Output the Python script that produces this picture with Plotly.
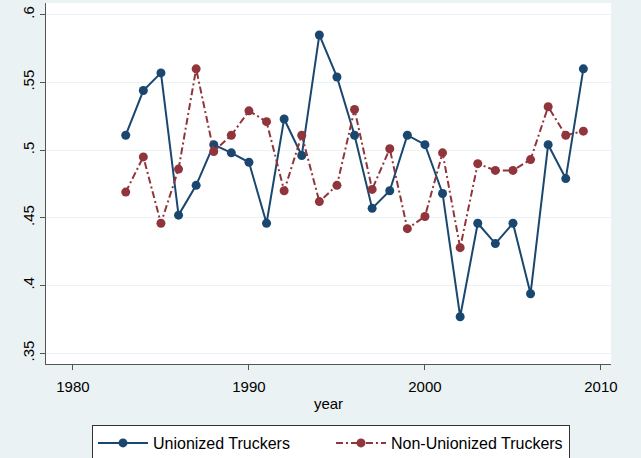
import plotly.graph_objects as go

years = list(range(1983, 2010))
unionized = [0.511, 0.544, 0.557, 0.452, 0.474, 0.504, 0.498, 0.491, 0.446, 0.523,
             0.496, 0.585, 0.554, 0.511, 0.457, 0.470, 0.511, 0.504, 0.468, 0.377,
             0.446, 0.431, 0.446, 0.394, 0.504, 0.479, 0.560]
non_unionized = [0.469, 0.495, 0.446, 0.486, 0.560, 0.499, 0.511, 0.529, 0.521, 0.470,
                 0.511, 0.462, 0.474, 0.530, 0.471, 0.501, 0.442, 0.451, 0.498, 0.428,
                 0.490, 0.485, 0.485, 0.493, 0.532, 0.511, 0.514]

x_ticks = [1980, 1990, 2000, 2010]
y_ticks = [0.35, 0.4, 0.45, 0.5, 0.55, 0.6]
y_labels = [".35", ".4", ".45", ".5", ".55", ".6"]

BLUE = "#1A476F"
RED = "#90353B"
BG = "#EAF2F3"
AX = "#555555"

fig = go.Figure()
fig.add_trace(go.Scatter(x=years, y=unionized, mode="lines+markers",
                         name="Unionized Truckers",
                         line=dict(color=BLUE, width=2),
                         marker=dict(color=BLUE, size=9)))
fig.add_trace(go.Scatter(x=years, y=non_unionized, mode="lines+markers",
                         name="Non-Unionized Truckers",
                         line=dict(color=RED, width=2, dash="7px,3px,2px,3px"),
                         marker=dict(color=RED, size=9)))

fig.update_layout(
    width=641, height=458,
    margin=dict(l=46, r=30, t=3, b=94, autoexpand=False),
    paper_bgcolor=BG, plot_bgcolor="white",
    font=dict(family="Liberation Sans, Arial, sans-serif", size=15, color="#000000"),
    showlegend=True,
    legend=dict(orientation="h", x=0.0814, y=-0.169, xanchor="left", yanchor="top",
                bgcolor="white", bordercolor="#333333", borderwidth=1,
                font=dict(size=16), itemwidth=50, entrywidth=173, entrywidthmode="pixels"),
    xaxis=dict(range=[1978.47, 2010.57], tickvals=x_ticks, showgrid=False,
               zeroline=False, showline=True, linecolor=AX, linewidth=1,
               ticks="outside", ticklen=5, tickcolor=AX, automargin=False,
               tickfont=dict(size=15), ticklabelstandoff=4,
               title=dict(text="year", standoff=4, font=dict(size=15))),
    yaxis=dict(range=[0.3421, 0.6086], tickvals=y_ticks, ticktext=y_labels,
               tickangle=-90, showgrid=True, gridcolor=BG, gridwidth=1,
               zeroline=False, showline=True, linecolor=AX, linewidth=1,
               ticks="outside", ticklen=5, tickcolor=AX, automargin=False,
               tickfont=dict(size=15)),
)

fig.write_html("out.html", config={"displayModeBar": False},
               post_script="document.body.style.margin='0';")
